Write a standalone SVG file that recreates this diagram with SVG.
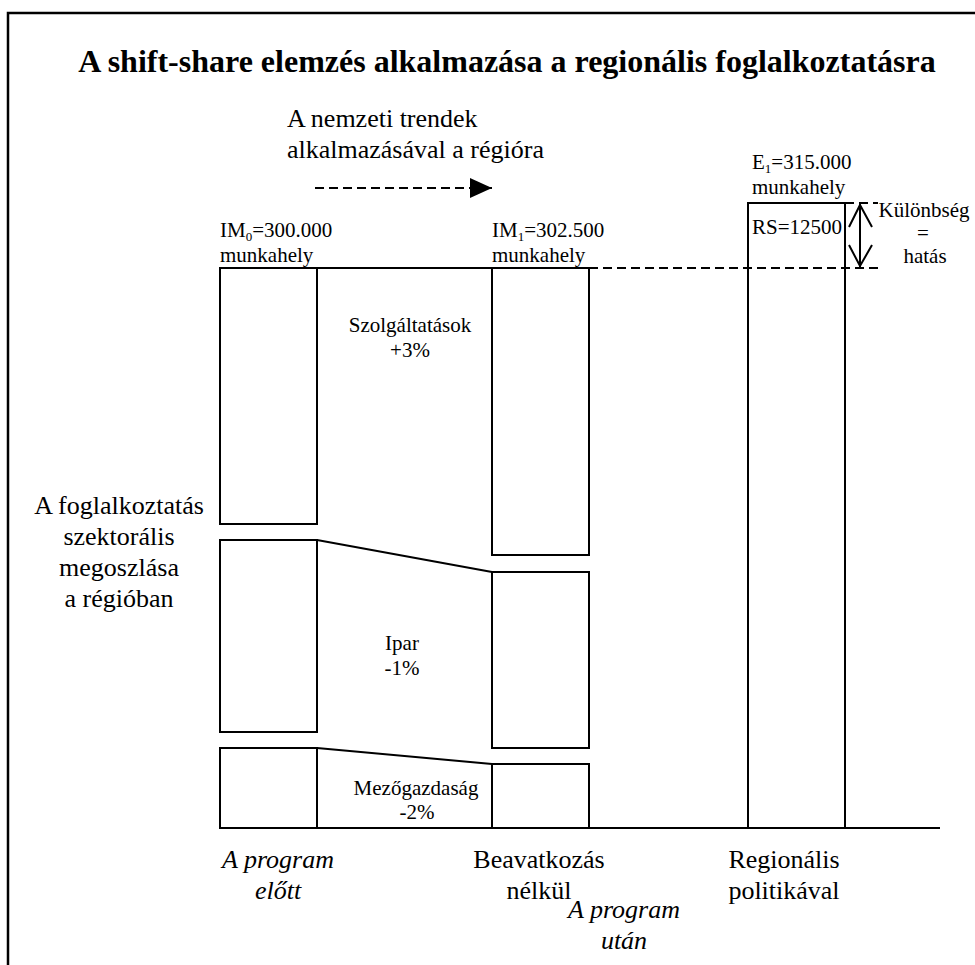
<svg xmlns="http://www.w3.org/2000/svg" width="975" height="965" viewBox="0 0 975 965">
<defs>
<style>
text{font-family:"Liberation Serif","Tinos","Times New Roman","Nimbus Roman","DejaVu Serif",serif;fill:#000}
.box{fill:#fff;stroke:#000;stroke-width:2}
.ln{stroke:#000;stroke-width:2;fill:none}
.dash{stroke:#000;stroke-width:2;stroke-dasharray:9 5;fill:none}
.t26{font-size:26px}
.t21{font-size:21px}
.c{text-anchor:middle}
.it{font-style:italic}
.sub{font-size:13px}
</style>
<marker id="tri" markerWidth="22" markerHeight="20" refX="22" refY="10" orient="auto" markerUnits="userSpaceOnUse">
<path d="M0,0 L22,10 L0,20 Z" fill="#000"/>
</marker>
</defs>
<rect x="0" y="0" width="975" height="965" fill="#fff"/>
<rect x="8" y="13" width="1000" height="1000" fill="none" stroke="#000" stroke-width="2.5"/>

<g id="title">
<text x="507" y="72" class="c" style="font-size:32px;font-weight:bold">A shift-share elemzés alkalmazása a regionális foglalkoztatásra</text>
</g>

<g id="trend-label">
<text x="287" y="127" class="t26">A nemzeti trendek</text>
<text x="287" y="158" class="t26">alkalmazásával a régióra</text>
</g>

<g id="side-label">
<text x="119" y="514" class="t26 c">A foglalkoztatás</text>
<text x="119" y="545" class="t26 c">szektorális</text>
<text x="119" y="576" class="t26 c">megoszlása</text>
<text x="119" y="607" class="t26 c">a régióban</text>
</g>

<g id="before">
<text x="220" y="237" class="t21">IM<tspan class="sub" dy="4">0</tspan><tspan dy="-4">=300.000</tspan></text>
<text x="220" y="262" class="t21">munkahely</text>
<rect x="220" y="268" width="97" height="256" class="box"/>
<rect x="220" y="540" width="97" height="192" class="box"/>
<rect x="220" y="748" width="97" height="80" class="box"/>
</g>

<g id="without">
<text x="492" y="237" class="t21">IM<tspan class="sub" dy="4">1</tspan><tspan dy="-4">=302.500</tspan></text>
<text x="492" y="262" class="t21">munkahely</text>
<rect x="492" y="268" width="97" height="287" class="box"/>
<rect x="492" y="572" width="97" height="176" class="box"/>
<rect x="492" y="764" width="97" height="64" class="box"/>
</g>

<g id="regional">
<text x="752" y="169" class="t21">E<tspan class="sub" dy="4">1</tspan><tspan dy="-4">=315.000</tspan></text>
<text x="752" y="194" class="t21">munkahely</text>
<rect x="748" y="203" width="97" height="625" class="box"/>
<text x="752" y="234" class="t21">RS=12500</text>
</g>

<g id="diff-label">
<text x="924" y="217" class="t21 c">Különbség</text>
<text x="923" y="240" class="t21 c">=</text>
<text x="925" y="263" class="t21 c">hatás</text>
</g>

<g id="sector-labels">
<text x="410" y="332" class="t21 c">Szolgáltatások</text>
<text x="410" y="357" class="t21 c">+3%</text>
<text x="402" y="650" class="t21 c">Ipar</text>
<text x="402" y="675" class="t21 c">-1%</text>
<text x="416" y="795" class="t21 c">Mezőgazdaság</text>
<text x="417" y="819" class="t21 c">-2%</text>
</g>

<g id="bottom-labels">
<text x="278" y="868" class="t26 c it">A program</text>
<text x="278" y="899" class="t26 c it">előtt</text>
<text x="539" y="868" class="t26 c">Beavatkozás</text>
<text x="539" y="899" class="t26 c">nélkül</text>
<text x="624" y="918" class="t26 c it">A program</text>
<text x="624" y="949" class="t26 c it">után</text>
<text x="784" y="868" class="t26 c">Regionális</text>
<text x="784" y="899" class="t26 c">politikával</text>
</g>

<g id="connectors">
<line x1="220" y1="828" x2="940" y2="828" class="ln"/>
<line x1="317" y1="268" x2="492" y2="268" class="ln"/>
<line x1="317" y1="540" x2="492" y2="572" class="ln"/>
<line x1="317" y1="748" x2="492" y2="764" class="ln"/>
<line x1="589" y1="268" x2="878" y2="268" class="dash" stroke-dasharray="10 6"/>
<line x1="845" y1="203" x2="878" y2="203" class="dash" stroke-dasharray="10 6"/>
<line x1="315" y1="188" x2="492" y2="188" class="dash" marker-end="url(#tri)"/>
<line x1="860" y1="204" x2="860" y2="267" class="ln"/>
<polyline points="849,227 860,205 872,227" class="ln"/>
<polyline points="849,245 860,266 872,245" class="ln"/>
</g>
</svg>
